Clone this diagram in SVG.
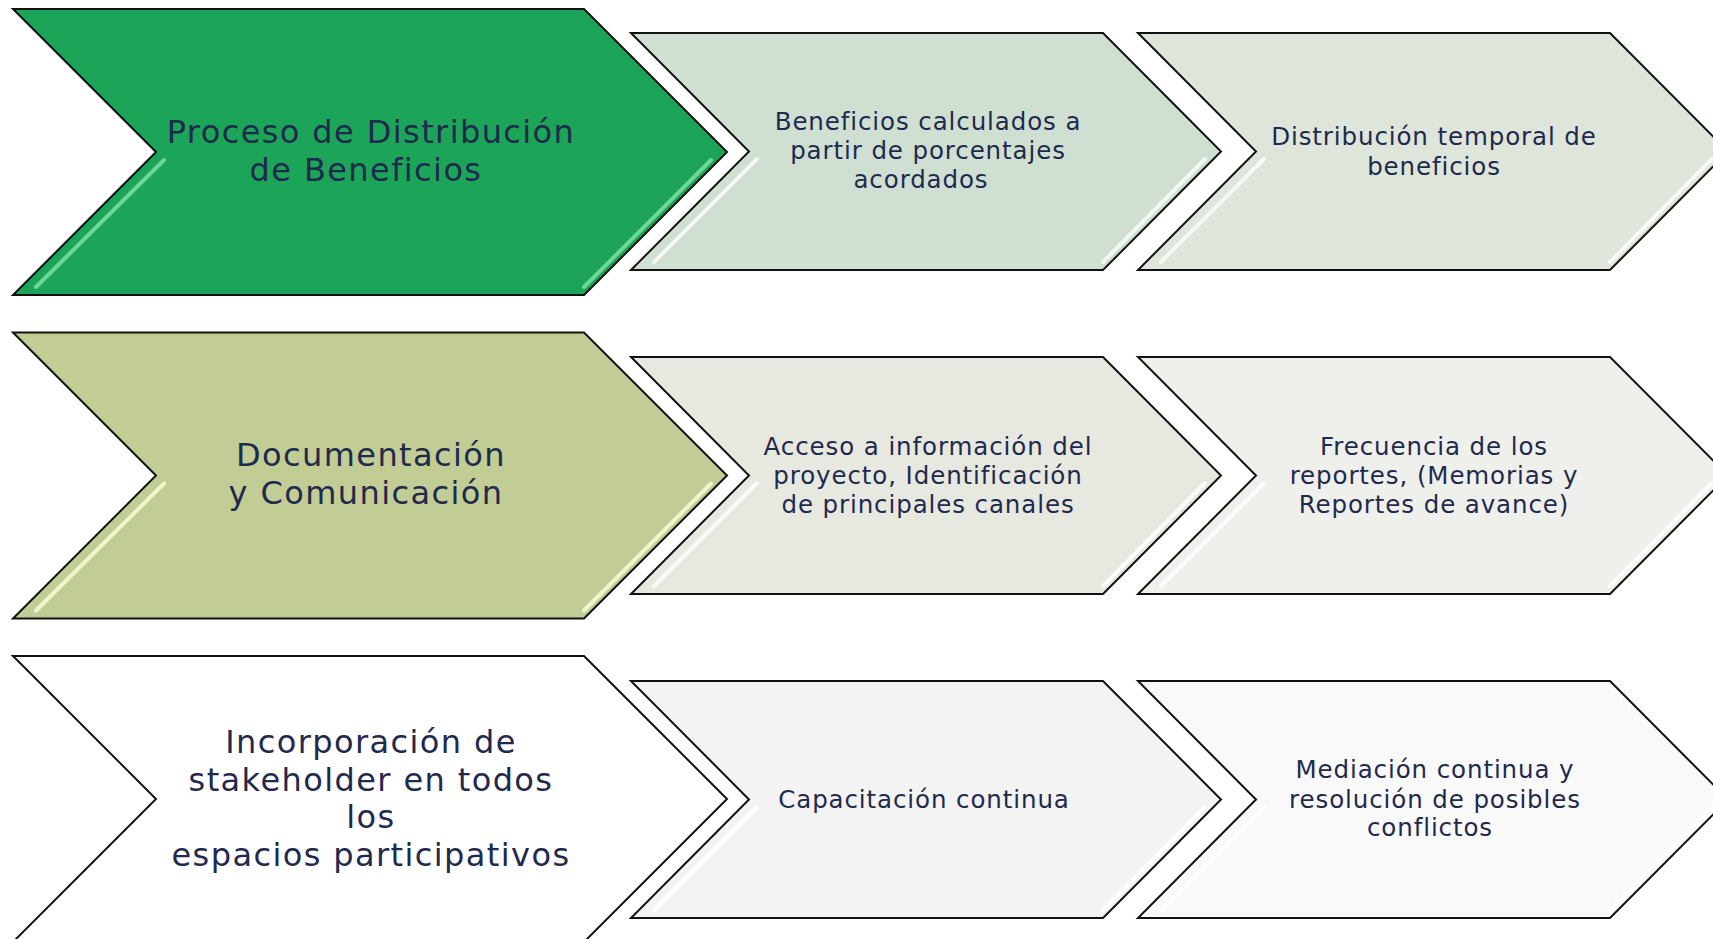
<svg xmlns="http://www.w3.org/2000/svg" width="1713" height="939" viewBox="0 0 1713 939">
<style>
.shape{stroke:#111;stroke-width:2;stroke-linejoin:miter}
.hl{fill:none;stroke-width:4;stroke-linecap:round}
.big{font-family:"DejaVu Sans","Liberation Sans",sans-serif;font-size:32px;fill:#1F2A4D;text-anchor:middle;letter-spacing:1.4px}
.sm{font-family:"DejaVu Sans","Liberation Sans",sans-serif;font-size:24.5px;fill:#1F2A4D;text-anchor:middle;letter-spacing:0.9px}
</style>
<rect width="1713" height="939" fill="#ffffff"/>
<g id="connectors"/>

<!-- Row 1 -->
<g id="n-proceso">
<polygon class="shape" fill="#1CA558" points="13,9 584,9 727,152 584,295 13,295 156,152"/>
<line class="hl" stroke="#74DDA0" stroke-opacity="0.9" x1="164" y1="160" x2="36" y2="287"/>
<line class="hl" stroke="#74DDA0" stroke-opacity="0.9" x1="711" y1="160" x2="584" y2="287"/>
<text class="big" x="371" y="143">Proceso de Distribución</text>
<text class="big" x="366" y="181">de Beneficios</text>
</g>
<g id="n-beneficios-calc">
<polygon class="shape" fill="#CFE0D3" points="631,33 1103,33 1221,151.5 1103,270 631,270 749,151.5"/>
<line class="hl" stroke="#ffffff" stroke-opacity="0.75" x1="757" y1="159" x2="654" y2="262"/>
<line class="hl" stroke="#ffffff" stroke-opacity="0.75" x1="1205" y1="159" x2="1103" y2="262"/>
<text class="sm" x="928" y="130">Beneficios calculados a</text>
<text class="sm" x="928" y="159">partir de porcentajes</text>
<text class="sm" x="921" y="188">acordados</text>
</g>
<g id="n-distribucion-temporal">
<polygon class="shape" fill="#DEE5DA" points="1138,33 1610,33 1728,151.5 1610,270 1138,270 1256,151.5"/>
<line class="hl" stroke="#ffffff" stroke-opacity="0.75" x1="1264" y1="159" x2="1161" y2="262"/>
<line class="hl" stroke="#ffffff" stroke-opacity="0.75" x1="1712" y1="159" x2="1610" y2="262"/>
<text class="sm" x="1434" y="145">Distribución temporal de</text>
<text class="sm" x="1434" y="175">beneficios</text>
</g>

<!-- Row 2 -->
<g id="n-documentacion">
<polygon class="shape" fill="#C1CD95" points="13,332.5 584,332.5 727,475.5 584,618.5 13,618.5 156,475.5"/>
<line class="hl" stroke="#F2F8CC" stroke-opacity="0.95" x1="164" y1="483.5" x2="36" y2="610.5"/>
<line class="hl" stroke="#F2F8CC" stroke-opacity="0.95" x1="711" y1="483.5" x2="584" y2="610.5"/>
<text class="big" x="371" y="466">Documentación</text>
<text class="big" x="366" y="504">y Comunicación</text>
</g>
<g id="n-acceso">
<polygon class="shape" fill="#E7E8E0" points="631,357 1103,357 1221,475.5 1103,594 631,594 749,475.5"/>
<line class="hl" stroke="#ffffff" stroke-opacity="0.8" x1="757" y1="483" x2="654" y2="586"/>
<line class="hl" stroke="#ffffff" stroke-opacity="0.8" x1="1205" y1="483" x2="1103" y2="586"/>
<text class="sm" x="928" y="455">Acceso a información del</text>
<text class="sm" x="928" y="484">proyecto, Identificación</text>
<text class="sm" x="928" y="513">de principales canales</text>
</g>
<g id="n-frecuencia">
<polygon class="shape" fill="#EFEFEC" points="1138,357 1610,357 1728,475.5 1610,594 1138,594 1256,475.5"/>
<line class="hl" stroke="#ffffff" stroke-opacity="0.85" x1="1264" y1="483" x2="1161" y2="586"/>
<line class="hl" stroke="#ffffff" stroke-opacity="0.85" x1="1712" y1="483" x2="1610" y2="586"/>
<text class="sm" x="1434" y="455">Frecuencia de los</text>
<text class="sm" x="1434" y="484">reportes, (Memorias y</text>
<text class="sm" x="1434" y="513">Reportes de avance)</text>
</g>

<!-- Row 3 -->
<g id="n-incorporacion">
<polygon class="shape" fill="#FFFFFF" points="13,656 584,656 727,799 584,942 13,942 156,799"/>
<text class="big" x="371" y="753">Incorporación de</text>
<text class="big" x="371" y="791">stakeholder en todos</text>
<text class="big" x="371" y="828">los</text>
<text class="big" x="371" y="866">espacios participativos</text>
</g>
<g id="n-capacitacion">
<polygon class="shape" fill="#F3F3F3" points="631,681 1103,681 1221,799.5 1103,918 631,918 749,799.5"/>
<line class="hl" stroke="#ffffff" stroke-opacity="0.9" x1="757" y1="807" x2="654" y2="910"/>
<line class="hl" stroke="#ffffff" stroke-opacity="0.9" x1="1205" y1="807" x2="1103" y2="910"/>
<text class="sm" x="924" y="808">Capacitación continua</text>
</g>
<g id="n-mediacion">
<polygon class="shape" fill="#F9F9F9" points="1138,681 1610,681 1728,799.5 1610,918 1138,918 1256,799.5"/>
<line class="hl" stroke="#ffffff" stroke-opacity="0.9" x1="1264" y1="807" x2="1161" y2="910"/>
<line class="hl" stroke="#ffffff" stroke-opacity="0.9" x1="1712" y1="807" x2="1610" y2="910"/>
<text class="sm" x="1435" y="778">Mediación continua y</text>
<text class="sm" x="1435" y="808">resolución de posibles</text>
<text class="sm" x="1430" y="836">conflictos</text>
</g>
</svg>
